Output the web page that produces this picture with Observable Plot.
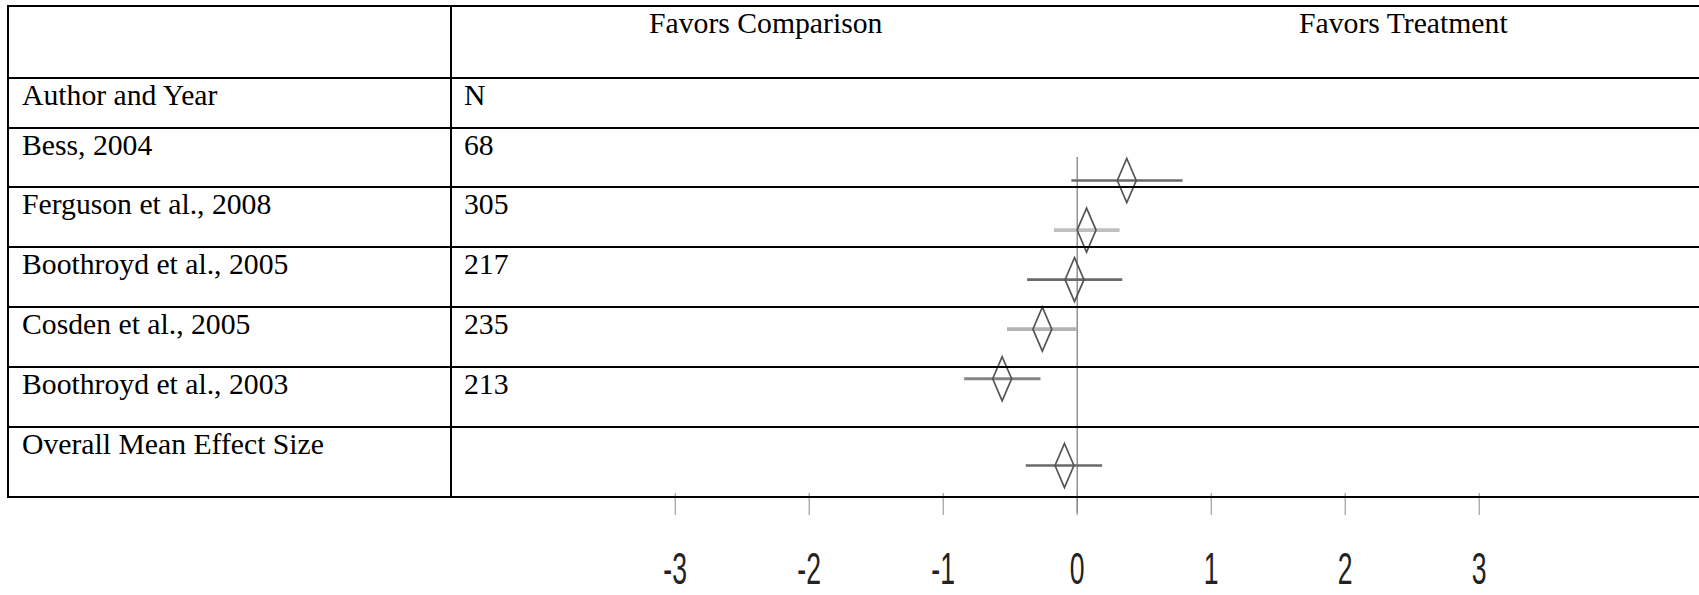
<!DOCTYPE html>
<html><head><meta charset="utf-8">
<script src="https://cdn.jsdelivr.net/npm/d3@7"></script>
<script src="https://cdn.jsdelivr.net/npm/@observablehq/plot@0.6"></script>
<style>
html,body{margin:0;padding:0;background:#fff;}
#wrap{position:relative;width:1699px;height:595px;overflow:hidden;font-family:"Liberation Serif","Times New Roman",serif;font-size:29.7px;color:#000;}
.hl{position:absolute;height:2px;background:#000;}
.vl{position:absolute;width:2px;background:#000;}
.cell{position:absolute;line-height:30px;white-space:nowrap;}
#chart{position:absolute;left:0;top:0;}
#grid{position:absolute;left:0;top:0;width:1699px;height:595px;}
</style></head><body><div id="wrap"><div id="chart"></div><div id="grid"></div></div>
<script>
// ---- data ----
const headerLabels = ["Favors Comparison", "Favors Treatment"];
const columnHeaders = ["Author and Year", "N"];
const studies = ["Bess, 2004", "Ferguson et al., 2008", "Boothroyd et al., 2005", "Cosden et al., 2005", "Boothroyd et al., 2003"];
const sampleSizes = [68, 305, 217, 235, 213];
const effects = [0.37, 0.07, -0.02, -0.26, -0.56];
const lowers = [-0.04, -0.17, -0.37, -0.52, -0.84];
const uppers = [0.79, 0.32, 0.34, 0.00, -0.27];
const overallLabel = "Overall Mean Effect Size";
const overallEffect = -0.095;
const overallLower = -0.38;
const overallUpper = 0.19;
const tickValues = [-3, -2, -1, 0, 1, 2, 3];

// ---- styles / layout ----
const ciStyles = [
  {stroke: "#6a6a6a", width: 2.6},
  {stroke: "#bfbfbf", width: 3.8},
  {stroke: "#6a6a6a", width: 2.6},
  {stroke: "#b3b3b3", width: 3.8},
  {stroke: "#858585", width: 3.2}
];
const overallStyle = {stroke: "#6a6a6a", width: 2.6};
const W = 1699, H = 595;
const rowLines = [6, 78, 128, 187, 247, 307, 367, 427, 497];
const tableLeft = 8, colDivider = 451;
const col1Text = 22, col2Text = 464;
const headerTextX = [649, 1299];
const textOffset = 2;

// ---- table (HTML) ----
const grid = document.getElementById("grid");
function add(cls, style, text) {
  const d = document.createElement("div");
  d.className = cls;
  Object.assign(d.style, style);
  if (text != null) d.textContent = text;
  grid.appendChild(d);
}
rowLines.forEach(y => add("hl", {left: (tableLeft - 1) + "px", top: (y - 1) + "px", width: (W - tableLeft + 1) + "px"}));
[tableLeft, colDivider].forEach(x => add("vl", {left: (x - 1) + "px", top: (rowLines[0] - 1) + "px", height: (rowLines[rowLines.length - 1] - rowLines[0] + 2) + "px"}));
headerLabels.forEach((t, i) => add("cell", {left: headerTextX[i] + "px", top: (rowLines[0] + textOffset) + "px"}, t));
add("cell", {left: col1Text + "px", top: (rowLines[1] + textOffset) + "px"}, columnHeaders[0]);
add("cell", {left: col2Text + "px", top: (rowLines[1] + textOffset) + "px"}, columnHeaders[1]);
studies.forEach((s, i) => {
  add("cell", {left: col1Text + "px", top: (rowLines[2 + i] + textOffset) + "px"}, s);
  add("cell", {left: col2Text + "px", top: (rowLines[2 + i] + textOffset) + "px"}, String(sampleSizes[i]));
});
add("cell", {left: col1Text + "px", top: (rowLines[7] + textOffset) + "px"}, overallLabel);

// ---- forest plot (Plot) ----
const zeroPx = 1076.7, unitPx = 134;
const firstRowPx = 180, overallPx = 465, overallSlot = 5.75;
const stepPx = (overallPx - firstRowPx) / overallSlot;
const slot = px => (px - firstRowPx) / stepPx;

const records = studies.map((s, i) => ({study: s, n: sampleSizes[i], effect: effects[i], lower: lowers[i], upper: uppers[i], slot: i, style: ciStyles[i]}));
records.push({study: overallLabel, effect: overallEffect, lower: overallLower, upper: overallUpper, slot: overallSlot, style: overallStyle});

const tallDiamond = {
  draw(context, size) {
    const r = Math.sqrt(size / Math.PI);
    const w = r * 0.43;
    context.moveTo(0, -r);
    context.lineTo(w, 0);
    context.lineTo(0, r);
    context.lineTo(-w, 0);
    context.closePath();
  }
};

const tickFont = '"Liberation Sans Narrow", "Liberation Sans", Arial, sans-serif';
const tickFontSize = 45;
const digitAdvance = 14.8; // target advance width of one digit in the condensed face

const plot = Plot.plot({
  width: W, height: H,
  marginTop: 0, marginRight: 0, marginBottom: 0, marginLeft: 0,
  style: {background: "transparent", overflow: "visible"},
  x: {domain: [-zeroPx / unitPx, (W - zeroPx) / unitPx], range: [0, W], axis: null},
  y: {domain: [0, overallSlot], range: [firstRowPx, overallPx], axis: null},
  marks: [
    Plot.ruleX([0], {y1: slot(157), y2: slot(513), stroke: "#777", strokeWidth: 1.2}),
    Plot.ruleX(tickValues, {x: d => d, y1: slot(493), y2: slot(515), stroke: "#8a8a8a", strokeWidth: 1}),
    ...records.map(r => Plot.ruleY([r], {y: "slot", x1: "lower", x2: "upper", stroke: r.style.stroke, strokeWidth: r.style.width})),
    Plot.dot(records, {x: "effect", y: "slot", symbol: tallDiamond, r: 22, fill: "none", stroke: "#555", strokeWidth: 1.7}),
    Plot.text(tickValues, {x: d => d, y: slot(569), text: d => String(d), fontSize: tickFontSize, fontFamily: tickFont, fill: "#222"})
  ]
});
document.getElementById("chart").appendChild(plot);

// condense tick labels to match the narrow face of the reference
const ctx = document.createElement("canvas").getContext("2d");
ctx.font = `${tickFontSize}px ${tickFont}`;
const adv = ctx.measureText("0").width || (0.556 * tickFontSize);
const sx = digitAdvance / adv;
plot.querySelectorAll("text").forEach(t => {
  const w = ctx.measureText(t.textContent).width * sx;
  if (w > 0) {
    t.setAttribute("textLength", w.toFixed(2));
    t.setAttribute("lengthAdjust", "spacingAndGlyphs");
  }
});
</script></body></html>
